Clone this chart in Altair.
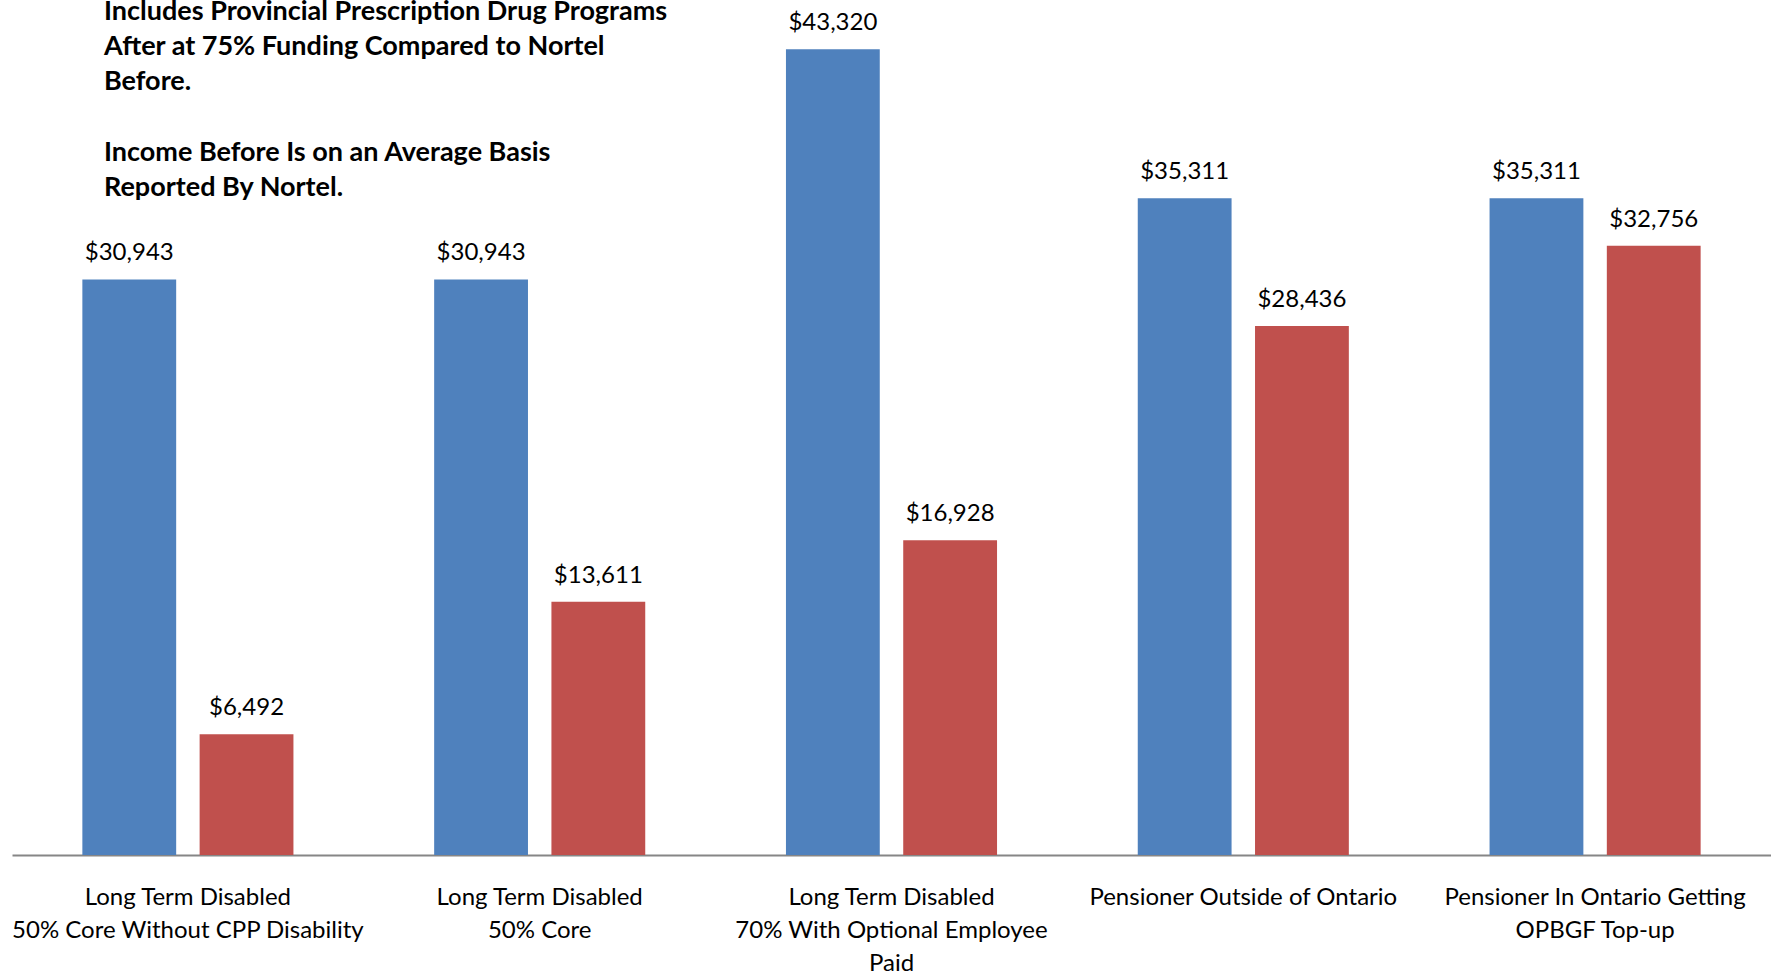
import altair as alt
import pandas as pd

categories = [
    "Long Term Disabled|50% Core Without CPP Disability",
    "Long Term Disabled|50% Core",
    "Long Term Disabled|70% With Optional Employee|Paid",
    "Pensioner Outside of Ontario",
    "Pensioner In Ontario Getting|OPBGF Top-up",
]
series = ["Before", "After"]
before_values = [30943, 30943, 43320, 35311, 35311]
after_values = [6492, 13611, 16928, 28436, 32756]
note_para1 = [
    "Includes Provincial Prescription Drug Programs",
    "After at 75% Funding Compared to Nortel",
    "Before.",
]
note_para2 = [
    "Income Before Is on an Average Basis",
    "Reported By Nortel.",
]

rows = []
for c, b, a in zip(categories, before_values, after_values):
    rows.append({"cat": c, "series": "Before", "value": b})
    rows.append({"cat": c, "series": "After", "value": a})
df = pd.DataFrame(rows)

FONT = "Lato"

x_enc = alt.X(
    "cat:N",
    sort=categories,
    scale=alt.Scale(domain=categories, paddingInner=0, paddingOuter=0),
    axis=alt.Axis(
        title=None,
        labelAngle=0,
        labelExpr="split(datum.label, '|')",
        labelFont=FONT,
        labelFontSize=24,
        labelColor="#000000",
        labelLineHeight=33,
        labelPadding=30,
        labelBaseline="top",
        ticks=False,
        domainColor="#868686",
        domainWidth=2,
        labelLimit=400,
    ),
)
xoff = alt.XOffset(
    "series:N",
    sort=series,
    scale=alt.Scale(domain=series, paddingInner=0.2, paddingOuter=0.6),
)
y_enc = alt.Y(
    "value:Q",
    scale=alt.Scale(domain=[0, 45000], nice=False),
    axis=None,
)
color_enc = alt.Color(
    "series:N",
    scale=alt.Scale(domain=series, range=["#4F81BD", "#C0504D"]),
    legend=None,
)

base = alt.Chart(df).encode(x=x_enc, xOffset=xoff, y=y_enc)

bars = base.mark_bar().encode(color=color_enc)
labels = base.mark_text(
    baseline="bottom", dy=-14, font=FONT, fontSize=24, color="#000000"
).encode(text=alt.Text("value:Q", format="$,.0f"))


def note_layer(lines, ypos):
    ndf = pd.DataFrame({"t": ["\n".join(lines)]})
    return alt.Chart(ndf).mark_text(
        align="left",
        baseline="top",
        font=FONT,
        fontSize=27,
        fontWeight="bold",
        lineHeight=35,
        lineBreak="\n",
        color="#000000",
    ).encode(text="t:N", x=alt.value(92), y=alt.value(ypos))


note1 = note_layer(note_para1, -19)
note2 = note_layer(note_para2, 122)

chart = (
    alt.layer(bars, labels, note1, note2)
    .properties(
        width=1759,
        height=837,
        padding={"left": 12, "top": 18, "right": 0, "bottom": 121},
        autosize=alt.AutoSizeParams(type="none"),
        background="white",
    )
    .configure_view(stroke=None)
)

chart.save("out.html", embed_options={"renderer": "svg", "actions": False})
